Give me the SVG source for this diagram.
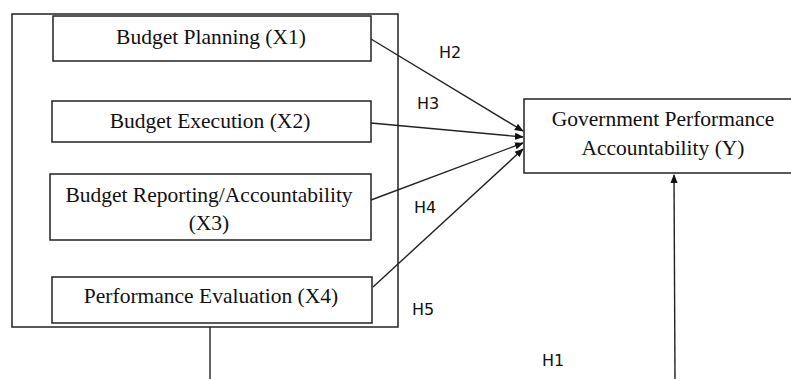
<svg xmlns="http://www.w3.org/2000/svg" width="791" height="379" viewBox="0 0 791 379">
<style>
.box{fill:#fff;stroke:#222;stroke-width:1.5}
.lbl{font-family:"Liberation Serif","Times New Roman",serif;font-size:21.5px;fill:#111;text-anchor:middle}
.h{font-family:"DejaVu Sans",sans-serif;font-size:16px;fill:#111;text-anchor:middle}
.ln{stroke:#222;stroke-width:1.4;fill:none}
</style>
<defs>
<marker id="ah" viewBox="0 0 10 10" refX="9" refY="5" markerWidth="9" markerHeight="9" orient="auto" markerUnits="userSpaceOnUse">
<path d="M0,1 L10,5 L0,9 Z" fill="#111"/>
</marker>
</defs>
<rect x="12" y="14" width="386" height="313" fill="#fff" stroke="#222" stroke-width="1.5"/>
<g id="connectors">
<line class="ln" x1="371" y1="39" x2="523" y2="131" marker-end="url(#ah)"/>
<line class="ln" x1="371" y1="123" x2="523" y2="137" marker-end="url(#ah)"/>
<line class="ln" x1="371" y1="200" x2="523" y2="143" marker-end="url(#ah)"/>
<line class="ln" x1="373" y1="287" x2="523" y2="149" marker-end="url(#ah)"/>
<line class="ln" x1="210" y1="327" x2="210" y2="379"/>
<line class="ln" x1="675" y1="379" x2="674" y2="175" marker-end="url(#ah)"/>
</g>
<g id="x1"><rect class="box" x="53" y="16" width="318" height="45"/><text class="lbl" x="211" y="44">Budget Planning (X1)</text></g>
<g id="x2"><rect class="box" x="52" y="101" width="319" height="41"/><text class="lbl" x="210" y="128">Budget Execution (X2)</text></g>
<g id="x3"><rect class="box" x="50" y="174" width="321" height="66"/><text class="lbl" x="209" y="202">Budget Reporting/Accountability</text><text class="lbl" x="209" y="230">(X3)</text></g>
<g id="x4"><rect class="box" x="52" y="277" width="320" height="46"/><text class="lbl" x="211" y="303">Performance Evaluation (X4)</text></g>
<g id="y"><rect class="box" x="524" y="99" width="268" height="74"/><text class="lbl" x="663" y="126">Government Performance</text><text class="lbl" x="663" y="155">Accountability (Y)</text></g>
<g id="labels">
<text class="h" x="450" y="58">H2</text>
<text class="h" x="428" y="109">H3</text>
<text class="h" x="425" y="213">H4</text>
<text class="h" x="423" y="315">H5</text>
<text class="h" x="553" y="366">H1</text>
</g>
</svg>
